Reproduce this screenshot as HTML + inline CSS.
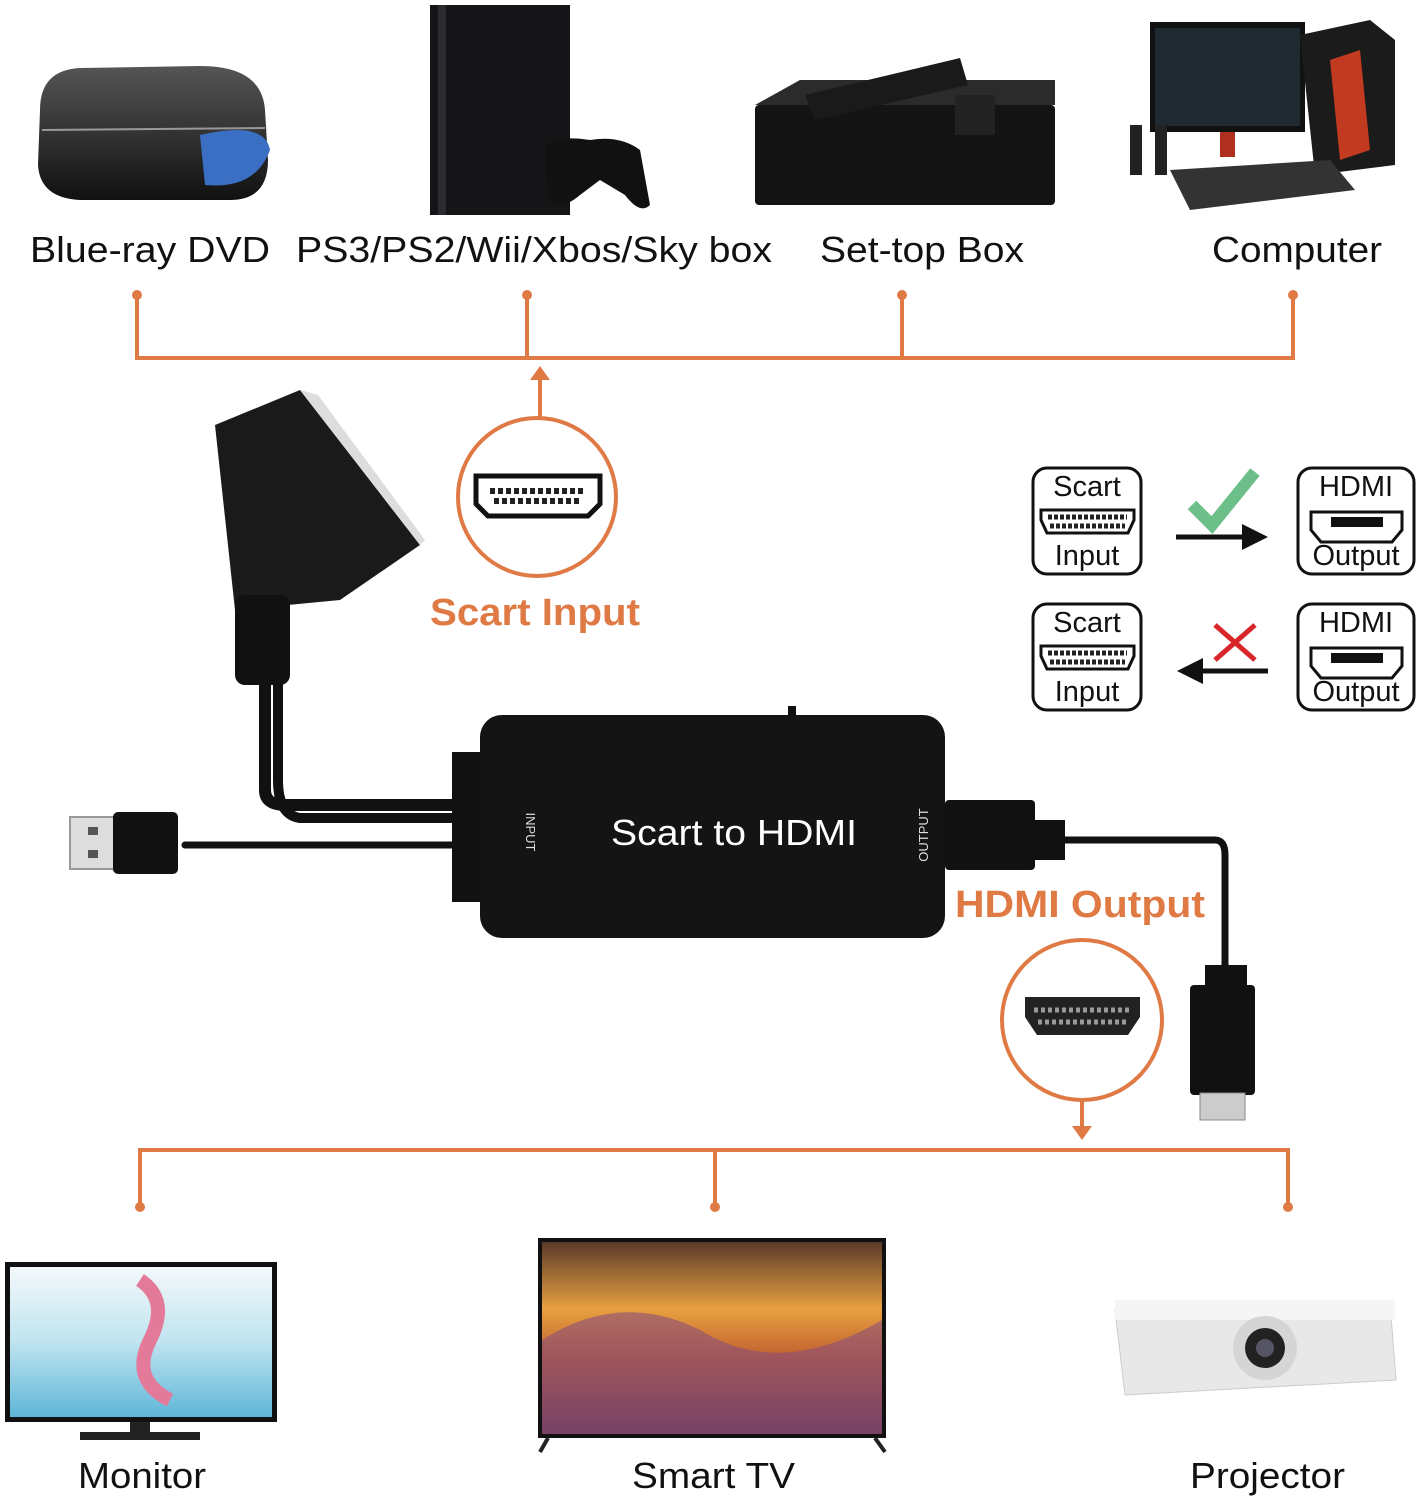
<!DOCTYPE html>
<html><head><meta charset="utf-8"><style>
html,body{margin:0;padding:0;background:#fff;}
svg{display:block;}
text{font-family:"Liberation Sans",Arial,sans-serif;}
</style></head><body>
<svg width="1421" height="1500" viewBox="0 0 1421 1500" xmlns="http://www.w3.org/2000/svg">
<defs>
<linearGradient id="sky" x1="0" y1="0" x2="0" y2="1"><stop offset="0" stop-color="#5a3a2a"/><stop offset="0.35" stop-color="#e8a040"/><stop offset="0.6" stop-color="#c06030"/><stop offset="1" stop-color="#5a3048"/></linearGradient>
<linearGradient id="mon" x1="0" y1="0" x2="0" y2="1"><stop offset="0" stop-color="#f4f8fa"/><stop offset="0.5" stop-color="#bfe4f0"/><stop offset="1" stop-color="#5fb6d8"/></linearGradient>
<linearGradient id="dvd" x1="0" y1="0" x2="0" y2="1"><stop offset="0" stop-color="#555"/><stop offset="1" stop-color="#111"/></linearGradient>
</defs>

<path d="M40 110 Q40 70 80 68 L200 66 Q262 66 265 110 L268 160 Q268 200 230 200 L80 200 Q40 198 38 165 Z" fill="url(#dvd)"/>
<path d="M42 130 L265 128" stroke="#999" stroke-width="2"/>
<path d="M200 135 Q265 120 270 150 Q255 190 205 185 Z" fill="#3b6fc4"/>
<rect x="430" y="5" width="140" height="210" fill="#151518"/>
<rect x="438" y="5" width="8" height="210" fill="#2a2a30"/>
<path d="M545 145 Q560 135 590 140 Q620 135 640 150 L650 205 Q640 215 625 195 L600 180 L580 195 Q560 212 548 200 Z" fill="#111"/>
<rect x="755" y="105" width="300" height="100" rx="4" fill="#141414"/>
<path d="M755 105 L800 80 L1055 80 L1055 105 Z" fill="#2b2b2b"/>
<path d="M805 95 L960 58 L968 85 L815 120 Z" fill="#1a1a1a"/>
<rect x="955" y="95" width="40" height="40" fill="#222"/>
<rect x="1150" y="22" width="155" height="110" fill="#111"/>
<rect x="1155" y="28" width="145" height="98" fill="#1e2a30"/>
<rect x="1220" y="132" width="15" height="25" fill="#b03020"/>
<path d="M1300 35 L1370 20 L1395 40 L1395 165 L1315 175 Z" fill="#1b1b1b"/>
<path d="M1330 60 L1360 50 L1370 150 L1340 160 Z" fill="#c23a20"/>
<path d="M1170 170 L1330 160 L1355 190 L1190 210 Z" fill="#333"/>
<rect x="1130" y="125" width="12" height="50" fill="#222"/><rect x="1155" y="125" width="12" height="50" fill="#222"/>

<g font-size="36" fill="#111" lengthAdjust="spacingAndGlyphs">
<text x="30" y="262" textLength="240" lengthAdjust="spacingAndGlyphs">Blue-ray DVD</text>
<text x="296" y="262" textLength="476" lengthAdjust="spacingAndGlyphs">PS3/PS2/Wii/Xbos/Sky box</text>
<text x="820" y="262" textLength="204" lengthAdjust="spacingAndGlyphs">Set-top Box</text>
<text x="1212" y="262" textLength="170" lengthAdjust="spacingAndGlyphs">Computer</text>
</g>

<g stroke="#e07a45" stroke-width="4" fill="none">
<path d="M137 295 V358 H1293 V295"/>
<path d="M527 295 V358 M902 295 V358"/>
<path d="M540 376 V420"/>
<circle cx="537" cy="497" r="79"/>
<path d="M140 1207 V1150 H1288 V1207 M715 1150 V1207"/>
<path d="M1082 1100 V1130"/>
<circle cx="1082" cy="1020" r="80"/>
</g>
<g fill="#e07a45">
<circle cx="137" cy="295" r="5"/><circle cx="527" cy="295" r="5"/><circle cx="902" cy="295" r="5"/><circle cx="1293" cy="295" r="5"/>
<path d="M540 366 L530 380 L550 380 Z"/>
<path d="M1082 1140 L1072 1126 L1092 1126 Z"/>
<circle cx="140" cy="1207" r="5"/><circle cx="715" cy="1207" r="5"/><circle cx="1288" cy="1207" r="5"/>
</g>
<path d="M476 476 L600 476 L600 504 L588 516 L488 516 L476 504 Z" fill="#fff" stroke="#111" stroke-width="5"/>
<rect x="486" y="486" width="104" height="20" fill="#fff"/>
<path d="M490 491 H586 M494 501 H582" stroke="#222" stroke-width="6" stroke-dasharray="5 3"/>
<path d="M1025 997 L1140 997 L1140 1017 L1128 1035 L1037 1035 L1025 1017 Z" fill="#222"/>
<path d="M1034 1010 H1131 M1038 1022 H1127" stroke="#999" stroke-width="5" stroke-dasharray="4 3"/>

<text x="430" y="625" font-size="38" font-weight="bold" fill="#e07a45" textLength="210" lengthAdjust="spacingAndGlyphs">Scart Input</text>
<text x="955" y="917" font-size="38" font-weight="bold" fill="#e07a45" textLength="250" lengthAdjust="spacingAndGlyphs">HDMI Output</text>

<path d="M215 425 L300 390 L420 545 L340 600 L235 610 Z" fill="#1a1a1a"/>
<path d="M300 390 L318 395 L425 540 L420 545 Z" fill="#ddd"/>
<rect x="235" y="595" width="55" height="90" rx="10" fill="#111"/>
<g fill="none" stroke="#111" stroke-linecap="round">
<path d="M265 680 V790 Q265 805 285 805 H460" stroke-width="12"/>
<path d="M278 680 V780 Q278 815 300 818 H460" stroke-width="10"/>
<path d="M185 845 H460" stroke-width="7"/>
<path d="M1060 840 H1215 Q1225 840 1225 855 V970" stroke-width="7"/>
</g>
<rect x="70" y="817" width="45" height="52" fill="#ddd" stroke="#999" stroke-width="2"/>
<rect x="88" y="827" width="10" height="8" fill="#555"/><rect x="88" y="850" width="10" height="8" fill="#555"/>
<rect x="113" y="812" width="65" height="62" rx="5" fill="#111"/>
<rect x="452" y="752" width="60" height="150" fill="#111"/>
<rect x="480" y="715" width="465" height="223" rx="22" fill="#141414"/>
<rect x="788" y="706" width="8" height="10" fill="#111"/>
<text x="611" y="845" font-size="36" fill="#fff" textLength="246" lengthAdjust="spacingAndGlyphs">Scart to HDMI</text>
<text x="526" y="832" font-size="13" fill="#ddd" transform="rotate(90 526 832)" text-anchor="middle">INPUT</text>
<text x="928" y="835" font-size="13" fill="#ddd" transform="rotate(-90 928 835)" text-anchor="middle">OUTPUT</text>
<rect x="945" y="800" width="90" height="70" rx="4" fill="#111"/>
<rect x="1030" y="820" width="35" height="40" fill="#111"/>
<rect x="1205" y="965" width="42" height="35" fill="#111"/>
<rect x="1190" y="985" width="65" height="110" rx="4" fill="#111"/>
<rect x="1200" y="1093" width="45" height="27" fill="#ccc" stroke="#888"/>

<g stroke="#111" stroke-width="3" fill="#fff">
<rect x="1033" y="468" width="108" height="106" rx="14"/>
<rect x="1298" y="468" width="116" height="106" rx="14"/>
<rect x="1033" y="604" width="108" height="106" rx="14"/>
<rect x="1298" y="604" width="116" height="106" rx="14"/>
<path d="M1041 510 H1134 V520 L1128 533 H1047 L1041 520 Z"/>
<path d="M1041 646 H1134 V656 L1128 669 H1047 L1041 656 Z"/>
<path d="M1311 512 H1402 V530 L1392 542 H1321 L1311 530 Z"/>
<path d="M1311 648 H1402 V666 L1392 678 H1321 L1311 666 Z"/>
</g>
<path d="M1048 517 H1127 M1050 526 H1125" stroke="#222" stroke-width="5" stroke-dasharray="4 2"/>
<path d="M1048 653 H1127 M1050 662 H1125" stroke="#222" stroke-width="5" stroke-dasharray="4 2"/>
<rect x="1331" y="517" width="52" height="10" fill="#111"/>
<rect x="1331" y="653" width="52" height="10" fill="#111"/>
<g font-size="29" fill="#111" text-anchor="middle">
<text x="1087" y="496">Scart</text><text x="1087" y="565">Input</text>
<text x="1356" y="496">HDMI</text><text x="1356" y="565">Output</text>
<text x="1087" y="632">Scart</text><text x="1087" y="701">Input</text>
<text x="1356" y="632">HDMI</text><text x="1356" y="701">Output</text>
</g>
<path d="M1176 537 H1245" stroke="#111" stroke-width="5"/>
<path d="M1268 537 L1242 524 L1242 550 Z" fill="#111"/>
<path d="M1192 505 L1212 525 L1255 472" stroke="#6dbf8a" stroke-width="12" fill="none"/>
<path d="M1268 671 H1200" stroke="#111" stroke-width="5"/>
<path d="M1177 671 L1203 658 L1203 684 Z" fill="#111"/>
<path d="M1215 625 L1255 660 M1255 625 L1215 660" stroke="#d8252a" stroke-width="5"/>

<rect x="5" y="1262" width="272" height="160" fill="#111"/>
<rect x="10" y="1267" width="262" height="150" fill="url(#mon)"/>
<path d="M140 1280 Q170 1300 150 1340 Q130 1380 170 1400" stroke="#e47a9a" stroke-width="14" fill="none"/>
<rect x="130" y="1422" width="20" height="12" fill="#222"/>
<rect x="80" y="1432" width="120" height="8" fill="#222"/>
<rect x="538" y="1238" width="348" height="200" fill="#111"/>
<rect x="542" y="1242" width="340" height="192" fill="url(#sky)"/>
<path d="M542 1340 Q620 1290 700 1330 Q780 1380 882 1320 L882 1434 L542 1434 Z" fill="#8a4f7a" opacity="0.6"/>
<path d="M548 1438 L540 1452 M875 1438 L885 1452" stroke="#222" stroke-width="4"/>
<path d="M1115 1310 L1390 1302 L1396 1380 L1125 1395 Z" fill="#e8e8e8" stroke="#ccc"/>
<rect x="1115" y="1300" width="280" height="20" fill="#f5f5f5"/>
<circle cx="1265" cy="1348" r="32" fill="#d5d5d5"/>
<circle cx="1265" cy="1348" r="20" fill="#222"/>
<circle cx="1265" cy="1348" r="9" fill="#556"/>

<g font-size="36" fill="#111">
<text x="78" y="1488" textLength="128" lengthAdjust="spacingAndGlyphs">Monitor</text>
<text x="632" y="1488" textLength="163" lengthAdjust="spacingAndGlyphs">Smart TV</text>
<text x="1190" y="1488" textLength="155" lengthAdjust="spacingAndGlyphs">Projector</text>
</g>
</svg>
</body></html>
